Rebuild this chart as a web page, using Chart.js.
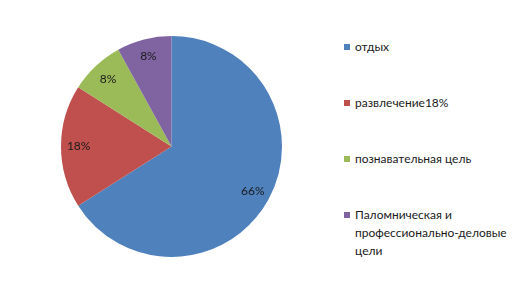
<!DOCTYPE html>
<html><head><meta charset="utf-8">
<script src="https://cdn.jsdelivr.net/npm/chart.js@4/dist/chart.umd.min.js"></script>
<style>
html,body{margin:0;padding:0;background:#fff;width:529px;height:296px;overflow:hidden;font-family:Lato,"DejaVu Sans",sans-serif;}
#wrap{position:absolute;left:61px;top:36px;width:221px;height:221px;}
#legend{position:absolute;left:344px;top:0;width:190px;font-size:12px;color:#1a1a1a;}
.item{position:absolute;left:0;display:flex;align-items:flex-start;line-height:18px;}
.sw{width:6px;height:6px;margin-top:6px;margin-right:5px;flex:none;}
.tx{width:175px;}
</style></head>
<body>
<div id="wrap"><canvas id="c"></canvas></div>
<div id="legend"></div>
<script>
const categories = ["отдых", "развлечение18%", "познавательная цель", "Паломническая и профессионально-деловые цели"];
const values = [66, 18, 8, 8];
const valueLabels = ["66%", "18%", "8%", "8%"];
const colors = ["#4F81BD", "#C0504D", "#9BBB59", "#8064A2"];
const legendTops = [38, 94, 150, 206];

const leg = document.getElementById('legend');
categories.forEach((c,i)=>{
  const d=document.createElement('div');d.className='item';d.style.top=legendTops[i]+'px';
  const s=document.createElement('div');s.className='sw';s.style.background=colors[i];
  const t=document.createElement('div');t.className='tx';t.textContent=c;
  d.appendChild(s);d.appendChild(t);leg.appendChild(d);
});

const labelPlugin={id:'lbl',afterDatasetsDraw(chart){
  const ctx=chart.ctx;const meta=chart.getDatasetMeta(0);
  ctx.save();ctx.font='12px Lato, sans-serif';ctx.fillStyle='#1a1a1a';ctx.textAlign='center';ctx.textBaseline='middle';
  meta.data.forEach((a,i)=>{
    const p=a.getProps(['x','y','startAngle','endAngle','outerRadius'],true);
    const m=(p.startAngle+p.endAngle)/2;const r=p.outerRadius*0.84;
    ctx.fillText(valueLabels[i],p.x+Math.cos(m)*r,p.y+Math.sin(m)*r);
  });
  ctx.restore();
}};

new Chart(document.getElementById('c'),{
  type:'pie',
  data:{labels:categories,datasets:[{data:values,backgroundColor:colors,borderWidth:0}]},
  options:{responsive:true,maintainAspectRatio:false,animation:false,
    layout:{padding:0},
    plugins:{legend:{display:false},tooltip:{enabled:false}}},
  plugins:[labelPlugin]
});
</script>
</body></html>
